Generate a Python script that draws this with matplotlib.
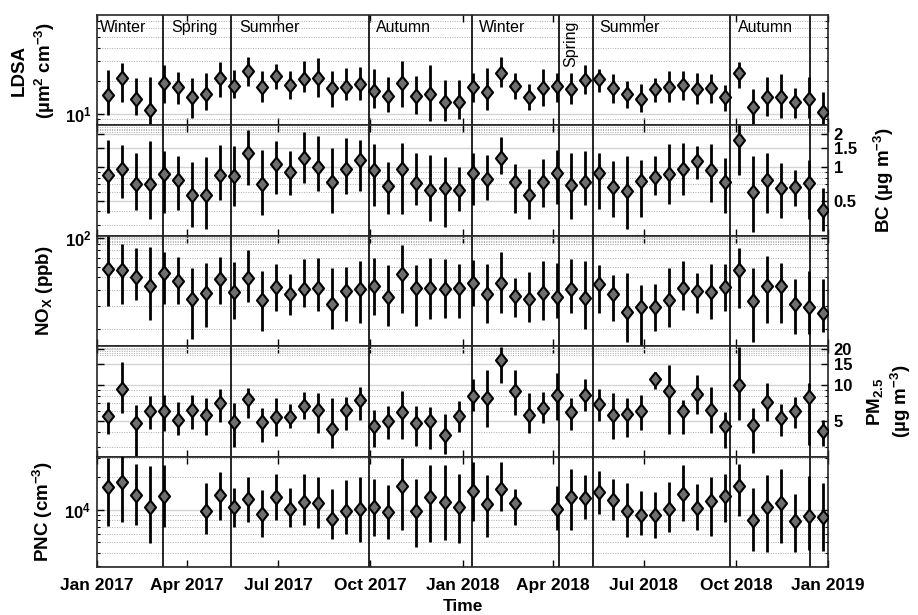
import numpy as np
import pandas as pd
import matplotlib
matplotlib.use("Agg")
import matplotlib.pyplot as plt
import matplotlib.dates as mdates
from matplotlib.ticker import LogLocator, NullFormatter, FixedLocator, FixedFormatter, NullLocator

plt.rcParams["font.family"] = ["Liberation Sans", "DejaVu Sans"]
plt.rcParams["font.weight"] = "bold"
plt.rcParams["mathtext.fontset"] = "custom"
plt.rcParams["mathtext.rm"] = "Liberation Sans:bold"
plt.rcParams["mathtext.it"] = "Liberation Sans:bold"
plt.rcParams["mathtext.bf"] = "Liberation Sans:bold"

# biweekly sampling periods
dates = pd.date_range("2017-01-12", periods=52, freq="14D")

ldsa_mean = [14.9, 21.4, 13.6, 10.9, 19.0, 17.7, 14.4, 15.2, 21.1, 18.1, 24.6, 17.7, 22.3, 18.4, 20.8, 21.4, 17.1,
             17.7, 18.6, 16.3, 14.7, 19.0, 14.6, 15.1, 12.9, 12.9, 17.5, 15.7, 23.4, 18.0, 14.2, 17.4, 18.1, 16.8,
             20.4, 20.8, 17.4, 15.2, 13.7, 16.8, 17.5, 18.4, 16.8, 17.1, 14.2, 23.4, 11.5, 14.4, 14.4, 12.8, 13.6, 10.4]
ldsa_lo = [9.8, 12.9, 9.9, 8.2, 12.5, 12.3, 9.3, 11.0, 14.4, 13.9, 18.1, 12.9, 16.8, 13.7, 16.0, 14.4, 11.7, 13.4,
           13.4, 11.3, 10.4, 11.5, 10.1, 8.7, 8.7, 9.1, 12.8, 10.9, 17.5, 13.7, 10.9, 11.8, 12.9, 12.3, 15.2, 16.0,
           12.7, 11.3, 10.5, 12.9, 12.8, 13.4, 12.3, 12.5, 10.6, 17.1, 8.1, 9.6, 9.3, 9.3, 9.3, 8.2]
ldsa_hi = [25.1, 29.3, 21.4, 21.8, 27.9, 24.3, 21.1, 23.8, 29.9, 25.1, 32.7, 24.6, 28.5, 24.6, 30.5, 32.1, 24.6, 26.0,
           26.9, 25.6, 21.8, 30.3, 22.2, 27.9, 20.4, 20.4, 23.8, 26.4, 32.7, 23.8, 18.7, 25.6, 23.8, 23.8, 27.9, 25.6,
           23.1, 20.1, 18.6, 21.4, 24.6, 24.6, 23.4, 23.1, 18.4, 29.9, 16.8, 21.8, 23.1, 17.1, 21.5, 16.0]

bc_mean = [0.85, 0.96, 0.70, 0.70, 0.87, 0.77, 0.56, 0.56, 0.85, 0.84, 1.35, 0.71, 1.06, 0.91, 1.22, 1.01, 0.74, 0.96,
           1.16, 0.94, 0.68, 0.96, 0.72, 0.62, 0.65, 0.63, 0.88, 0.79, 1.20, 0.73, 0.56, 0.73, 0.88, 0.69, 0.74, 0.88,
           0.67, 0.61, 0.75, 0.82, 0.86, 0.97, 1.13, 0.94, 0.73, 1.74, 0.60, 0.77, 0.65, 0.66, 0.72, 0.41]
bc_lo = [0.39, 0.53, 0.41, 0.34, 0.39, 0.41, 0.29, 0.28, 0.51, 0.45, 0.69, 0.37, 0.57, 0.56, 0.72, 0.61, 0.39, 0.57,
         0.61, 0.45, 0.38, 0.38, 0.46, 0.33, 0.29, 0.40, 0.46, 0.51, 0.86, 0.39, 0.34, 0.44, 0.47, 0.34, 0.46, 0.42,
         0.36, 0.28, 0.36, 0.56, 0.47, 0.56, 0.79, 0.49, 0.39, 0.85, 0.26, 0.39, 0.35, 0.45, 0.34, 0.27]
bc_hi = [1.74, 1.57, 1.34, 1.72, 1.40, 1.26, 1.12, 1.24, 1.57, 1.54, 2.17, 1.42, 1.72, 1.39, 2.07, 1.91, 1.50, 1.84,
         1.74, 1.63, 1.12, 1.66, 1.33, 1.28, 1.24, 1.01, 1.33, 1.28, 1.87, 1.06, 0.96, 1.18, 1.42, 1.33, 1.39, 1.34,
         1.13, 1.25, 1.17, 1.26, 1.60, 1.65, 1.55, 1.60, 1.20, 2.37, 1.26, 1.35, 1.10, 0.95, 1.17, 0.65]

nox_mean = [57.4, 56.7, 49.8, 42.8, 53.5, 46.7, 34.0, 37.5, 48.1, 38.2, 49.5, 33.7, 42.2, 36.9, 40.5, 41.0, 30.9, 39.1,
            40.5, 42.8, 35.4, 52.6, 41.0, 41.0, 40.3, 41.0, 45.3, 37.1, 44.8, 35.8, 34.0, 38.0, 35.4, 40.5, 34.8, 44.0,
            36.9, 27.1, 29.6, 29.3, 33.3, 41.5, 39.1, 38.2, 41.8, 56.7, 32.8, 42.8, 42.8, 31.4, 29.6, 26.7]
nox_lo = [30.0, 30.9, 33.3, 23.7, 31.4, 31.4, 16.9, 20.8, 31.4, 24.1, 32.4, 19.3, 27.4, 25.6, 29.6, 27.4, 20.0, 23.0,
          22.3, 25.6, 21.2, 26.7, 21.2, 24.1, 24.5, 24.5, 30.0, 22.1, 26.8, 24.8, 22.7, 23.7, 24.5, 26.7, 20.0, 26.8,
          23.1, 16.0, 14.8, 19.3, 20.8, 27.9, 26.7, 24.1, 27.6, 29.1, 16.0, 22.3, 22.1, 18.5, 18.5, 19.0]
nox_hi = [102.4, 89.9, 83.3, 84.8, 77.6, 71.0, 58.4, 64.6, 71.0, 65.0, 80.9, 55.7, 62.7, 52.6, 68.5, 69.8, 59.1, 59.5,
          66.9, 69.8, 62.0, 88.4, 62.0, 69.8, 68.5, 63.1, 67.7, 63.1, 77.6, 48.9, 54.5, 66.5, 63.8, 68.5, 66.5, 62.0,
          51.9, 53.5, 43.5, 44.0, 59.1, 66.5, 53.5, 63.1, 63.1, 83.3, 58.4, 73.1, 64.6, 48.4, 55.7, 48.4]

pm_mean = [5.50, 9.18, 4.78, 6.06, 5.98, 5.10, 6.18, 5.54, 7.01, 4.84, 7.58, 4.87, 5.33, 5.36, 6.71, 6.18, 4.29, 6.10,
           7.48, 4.49, 4.94, 5.87, 4.78, 5.00, 3.82, 5.50, 8.07, 7.73, 16.1, 8.89, 5.54, 6.38, 8.24, 5.87, 8.24, 6.88,
           5.61, 5.72, 6.06, 11.3, 8.89, 5.98, 8.34, 6.18, 4.54, 9.98, 4.57, 7.15, 5.26, 5.98, 7.87, 4.07]
pm_lo = [3.87, 5.80, 2.52, 4.26, 4.07, 3.82, 4.26, 3.82, 4.84, 3.02, 5.26, 3.32, 3.70, 4.35, 5.16, 3.94, 2.96, 4.15,
         5.10, 3.02, 3.52, 3.54, 3.05, 2.92, 2.61, 4.00, 5.98, 4.40, 10.3, 5.61, 3.94, 4.78, 5.10, 4.21, 5.98, 4.94,
         3.52, 3.63, 4.15, 9.18, 3.87, 3.87, 5.72, 3.94, 2.96, 5.10, 2.69, 4.94, 3.75, 4.35, 3.15, 3.05]
pm_hi = [7.25, 15.6, 6.80, 8.07, 8.24, 7.25, 8.24, 7.73, 9.18, 7.01, 9.48, 6.38, 7.82, 6.93, 8.77, 8.51, 7.73, 7.87,
         9.66, 6.18, 6.67, 8.95, 6.67, 6.50, 5.72, 7.34, 11.3, 13.3, 20.8, 13.3, 8.51, 8.77, 12.5, 7.73, 11.3, 9.18,
         8.51, 7.73, 8.24, 12.9, 14.6, 7.48, 12.2, 9.66, 5.87, 20.8, 6.38, 10.4, 6.93, 7.97, 10.4, 5.10]

nan = np.nan
pnc_mean = [16200, 18000, 13800, 10700, 13500, nan, nan, 9790, 13800, 10600, 12600, 9120, 13000, 10200, 11900, 11500,
            8260, 9790, 10200, 10700, 9510, 16700, 9790, 13000, 11800, 10500, 15000, 11400, 15500, 11500, nan, nan,
            10200, 13000, 12800, 14500, 12200, 9650, 8990, 8860, 10200, 14100, 10400, 12100, 13300, 16700, 8080,
            10500, 11500, 7800, 8800, 8490]
pnc_lo = [7110, 7690, 7160, 4980, 6860, nan, nan, 5950, 7970, 6860, 7690, 5580, 8080, 6910, 7160, 6760, 5350, 5950,
          5090, 5740, 5390, 6440, 4510, 5020, 5270, 4980, 7910, 5660, 9650, 7160, nan, nan, 6530, 6530, 8260, 9120,
          8080, 5660, 5870, 5540, 6210, 7910, 6530, 5780, 7690, 8800, 4200, 4110, 4910, 4110, 4260, 4170]
pnc_hi = [30100, 31200, 26500, 25500, 26100, nan, nan, 17700, 22300, 15900, 19900, 15300, 21500, 15900, 21400, 20100,
          15500, 18700, 20100, 19400, 17000, 29700, 19400, 25700, 26100, 21500, 27400, 21100, 27600, 15500, nan, nan,
          16700, 24000, 21100, 23000, 19200, 17700, 14800, 14600, 18000, 25700, 17300, 20100, 21400, 26700, 15900,
          21100, 24000, 14100, 20600, 17700]

season_bounds = ["2017-03-08", "2017-05-15", "2017-09-30", "2018-01-10", "2018-04-07", "2018-05-11", "2018-09-25",
                 "2018-12-14"]
season_names = ["Winter", "Spring", "Summer", "Autumn", "Winter", "Spring", "Summer", "Autumn"]
season_label_dates = ["2017-01-04", "2017-03-16", "2017-05-23", "2017-10-07", "2018-01-17", "2018-04-19",
                      "2018-05-18", "2018-10-03"]

# label, mean, lower, upper, ylim, axis side, fixed ticks, label x (axes fraction)
panels = [
    ("LDSA\n(µm$^{2}$ cm$^{-3}$)", ldsa_mean, ldsa_lo, ldsa_hi, (7.9, 79), "left", None, -0.055),
    ("BC (µg m$^{-3}$)", bc_mean, bc_lo, bc_hi, (0.242, 2.37), "right", [0.5, 1, 1.5, 2], 1.060),
    ("NO$_{X}$ (ppb)", nox_mean, nox_lo, nox_hi, (14.8, 103.6), "left", None, -0.058),
    ("PM$_{2.5}$\n(µg m$^{-3}$)", pm_mean, pm_lo, pm_hi, (2.5, 21.1), "right", [5, 10, 15, 20], 1.050),
    ("PNC (cm$^{-3}$)", pnc_mean, pnc_lo, pnc_hi, (2960, 30900), "left", None, -0.058),
]

diamond = [(0, 1), (0.8, 0), (0, -1), (-0.8, 0), (0, 1)]

fig, axes = plt.subplots(5, 1, figsize=(9.18, 6.15), dpi=100, sharex=True)
fig.subplots_adjust(left=0.1057, right=0.902, top=0.9756, bottom=0.078, hspace=0)

for i, (ax, (label, mean, lo, hi, ylim, side, ticks, lx)) in enumerate(zip(axes, panels)):
    mean = np.array(mean, dtype=float)
    lo = np.array(lo, dtype=float)
    hi = np.array(hi, dtype=float)
    ax.set_yscale("log")
    ax.errorbar(dates, mean, yerr=[mean - lo, hi - mean], fmt="none", ecolor="black",
                elinewidth=2.0, capsize=0, zorder=3)
    ax.plot(dates, mean, linestyle="none", marker=diamond, ms=10, mfc="#6e6e6e",
            mec="black", mew=1.5, zorder=4)
    for d in season_bounds:
        ax.axvline(pd.Timestamp(d), color="black", lw=1.2, zorder=2)

    ax.set_ylim(*ylim)
    ax.yaxis.set_minor_locator(LogLocator(base=10, subs=np.arange(2, 10)))
    ax.yaxis.set_minor_formatter(NullFormatter())
    if ticks is not None:
        ax.yaxis.set_major_locator(FixedLocator(ticks))
        ax.yaxis.set_major_formatter(FixedFormatter([f"{t:g}" for t in ticks]))

    ax.grid(True, which="major", axis="y", color="#d4d4d4", lw=1.0, ls="-")
    ax.grid(True, which="minor", axis="y", color="#aaaaaa", lw=0.7, ls=(0, (1, 1.5)))
    ax.set_axisbelow(True)
    if i in (1, 2, 3):
        ax.hlines([0.988, 0.972, 0.956, 0.94, 0.922], 0, 1, transform=ax.transAxes,
                  color="#aaaaaa", lw=0.7, ls=(0, (1, 1.5)), zorder=0)

    ax.tick_params(axis="both", which="major", direction="in", length=5, width=1,
                   top=True, bottom=True, left=True, right=True, labelsize=12)
    ax.tick_params(axis="y", which="minor", direction="in", length=2.5, width=0.8,
                   left=True, right=True)
    if side == "right":
        ax.tick_params(axis="y", which="both", labelleft=False, labelright=True, pad=4)
        ax.yaxis.set_label_position("right")
    else:
        ax.tick_params(axis="y", which="both", labelleft=True, labelright=False, pad=4)

    ax.set_ylabel(label, fontsize=13.5, fontweight="bold", linespacing=1.25)
    ax.yaxis.set_label_coords(lx, 0.5)

    for sp in ax.spines.values():
        sp.set_color("#262626")
        sp.set_linewidth(1.2)

ax0 = axes[0]
for name, d in zip(season_names, season_label_dates):
    if d == "2018-04-19":
        ax0.text(pd.Timestamp(d), 0.95, name, transform=ax0.get_xaxis_transform(), rotation=90,
                 ha="center", va="top", fontsize=11.5, fontweight="normal")
    else:
        ax0.text(pd.Timestamp(d), 0.89, name, transform=ax0.get_xaxis_transform(),
                 ha="left", va="center", fontsize=11.5, fontweight="normal")

axb = axes[-1]
axb.set_xlim(pd.Timestamp("2017-01-01"), pd.Timestamp("2019-01-01"))
axb.xaxis.set_major_locator(mdates.MonthLocator(bymonth=[1, 4, 7, 10]))
axb.xaxis.set_major_formatter(mdates.DateFormatter("%b %Y"))
axb.xaxis.set_minor_locator(NullLocator())
axb.tick_params(axis="x", which="major", pad=8, labelsize=12.5)
axb.set_xlabel("Time", fontsize=12.5, fontweight="bold", labelpad=4)

fig.savefig("out.png", dpi=100)
